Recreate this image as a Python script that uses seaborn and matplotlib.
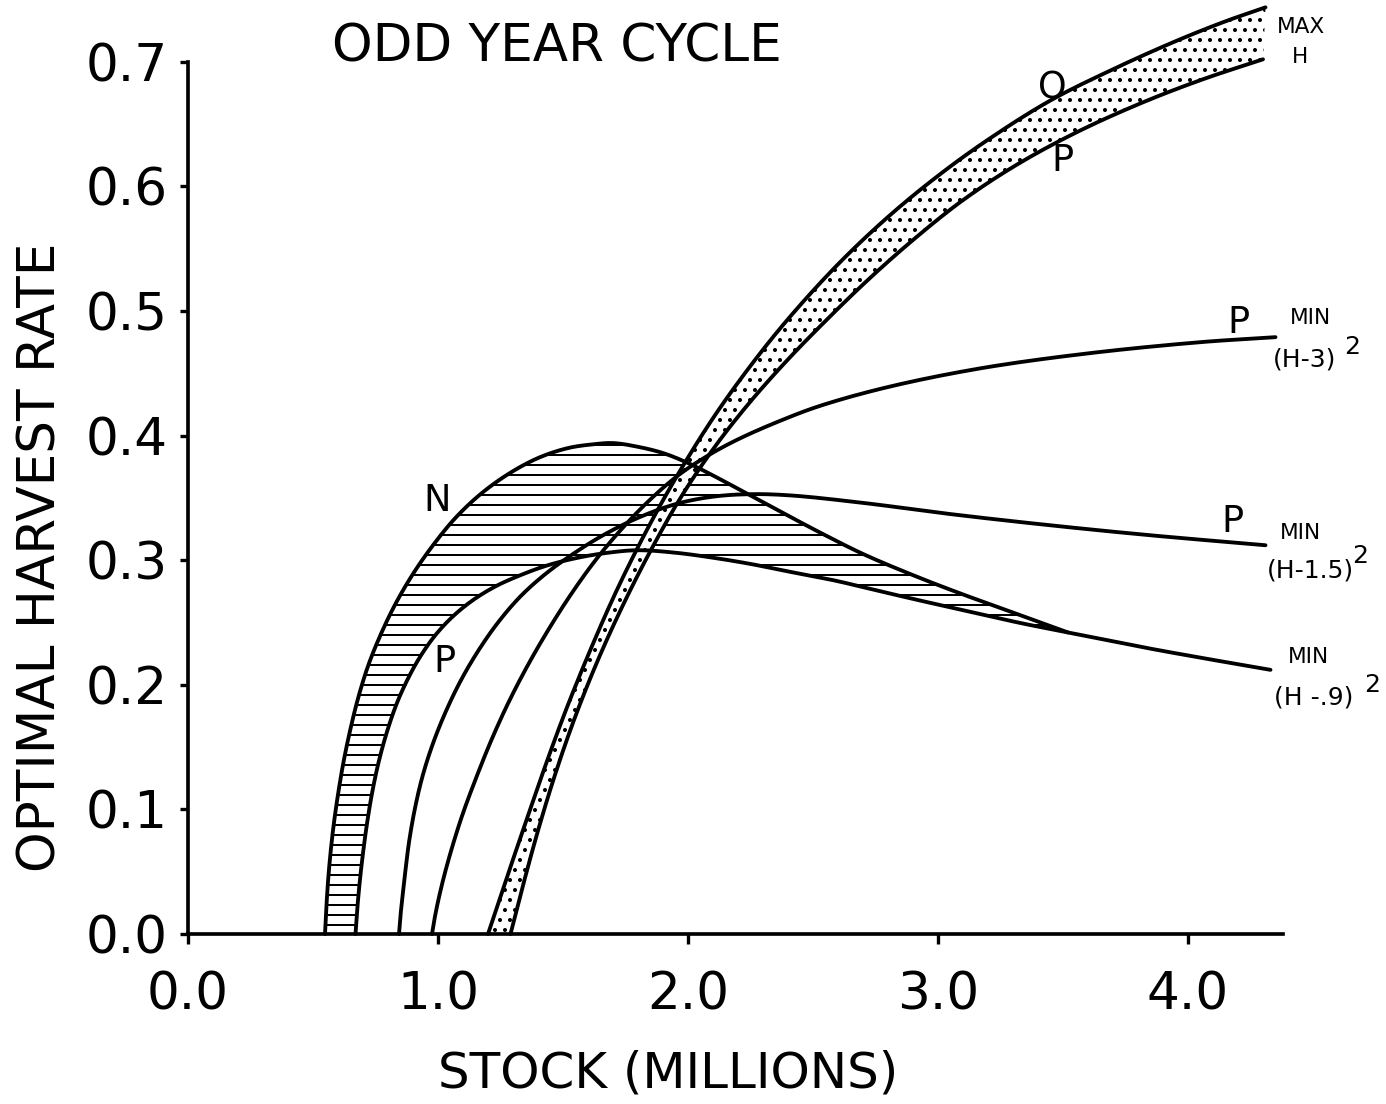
import numpy as np
import pandas as pd
import matplotlib
matplotlib.use("Agg")
import matplotlib.pyplot as plt
import seaborn as sns

# ---- readings: stock (millions) vs optimal harvest rate ----
# N curve (upper edge of the hatched band)
n_stock = [0.548, 0.553, 0.56, 0.57, 0.583, 0.60, 0.622, 0.648, 0.68, 0.72, 0.77, 0.83,
           0.90, 0.98, 1.07, 1.17, 1.28, 1.40, 1.52, 1.62, 1.70, 1.80, 1.90, 2.00, 2.10,
           2.24, 2.37, 2.53, 2.70, 2.90, 3.08, 3.30, 3.52]
n_rate = [0.000, 0.020, 0.042, 0.065, 0.088, 0.112, 0.138, 0.163, 0.189, 0.215, 0.240, 0.265,
          0.289, 0.312, 0.334, 0.353, 0.369, 0.382, 0.390, 0.393, 0.394, 0.391, 0.386, 0.378,
          0.368, 0.353, 0.339, 0.322, 0.305, 0.288, 0.274, 0.258, 0.242]

# P curve, MIN (H-.9)^2
p09_stock = [0.67, 0.677, 0.687, 0.70, 0.717, 0.738, 0.765, 0.797, 0.835, 0.88, 0.93, 0.99,
             1.06, 1.14, 1.23, 1.33, 1.44, 1.56, 1.68, 1.80, 1.95, 2.10, 2.25, 2.40, 2.58,
             2.75, 2.92, 3.10, 3.32, 3.52, 3.70, 3.85, 4.10, 4.33]
p09_rate = [0.000, 0.020, 0.042, 0.065, 0.090, 0.115, 0.140, 0.163, 0.185, 0.205, 0.223, 0.240,
            0.255, 0.268, 0.279, 0.288, 0.296, 0.302, 0.306, 0.308, 0.306, 0.302, 0.297, 0.291,
            0.284, 0.276, 0.268, 0.260, 0.250, 0.242, 0.235, 0.229, 0.220, 0.212]

# P curve, MIN (H-1.5)^2
p15_stock = [0.844, 0.85, 0.858, 0.868, 0.885, 0.91, 0.94, 0.98, 1.03, 1.09, 1.16, 1.24,
             1.33, 1.43, 1.54, 1.66, 1.80, 1.95, 2.10, 2.25, 2.41, 2.70, 3.05, 3.45, 3.85,
             4.31]
p15_rate = [0.000, 0.015, 0.030, 0.048, 0.075, 0.103, 0.128, 0.153, 0.178, 0.203, 0.227, 0.250,
            0.271, 0.289, 0.305, 0.320, 0.334, 0.345, 0.351, 0.353, 0.352, 0.346, 0.337, 0.328,
            0.320, 0.312]

# P curve, MIN (H-3)^2
p3_stock = [0.976, 0.985, 1.00, 1.025, 1.06, 1.10, 1.15, 1.21, 1.28, 1.36, 1.45, 1.54,
            1.63, 1.73, 1.84, 1.96, 2.08, 2.20, 2.37, 2.53, 2.80, 3.17, 3.60, 4.05, 4.35]
p3_rate = [0.000, 0.011, 0.026, 0.047, 0.072, 0.097, 0.124, 0.154, 0.185, 0.216, 0.247, 0.275,
           0.300, 0.324, 0.347, 0.368, 0.384, 0.397, 0.412, 0.424, 0.439, 0.454, 0.466, 0.475,
           0.479]

# MAX H band: O (upper edge) and P (lower edge)
o_stock = [1.20, 1.28, 1.36, 1.44, 1.52, 1.62, 1.72, 1.84, 1.96, 2.10, 2.25, 2.40, 2.60,
           2.80, 3.00, 3.20, 3.45, 3.70, 3.95, 4.15, 4.31]
o_rate = [0.000, 0.048, 0.095, 0.141, 0.184, 0.233, 0.278, 0.326, 0.369, 0.414, 0.456, 0.4935,
          0.5375, 0.5755, 0.6085, 0.6375, 0.669, 0.694, 0.7165, 0.7325, 0.7437]
pmax_stock = [1.29, 1.34, 1.40, 1.47, 1.55, 1.64, 1.74, 1.85, 1.97, 2.10, 2.24, 2.39, 2.55,
              2.72, 2.90, 3.10, 3.32, 3.56, 3.82, 4.06, 4.30]
pmax_rate = [0.000, 0.039, 0.083, 0.129, 0.175, 0.220, 0.264, 0.3075, 0.350, 0.389, 0.425,
             0.459, 0.492, 0.525, 0.557, 0.589, 0.618, 0.644, 0.6675, 0.686, 0.702]

x_ticks = [0.0, 1.0, 2.0, 3.0, 4.0]
x_tick_labels = ["0.0", "1.0", "2.0", "3.0", "4.0"]
y_ticks = [0.0, 0.1, 0.2, 0.3, 0.4, 0.5, 0.6, 0.7]
y_tick_labels = ["0.0", "0.1", "0.2", "0.3", "0.4", "0.5", "0.6", "0.7"]

# ---- layout (pixels per data unit, origin position) ----
DPI = 120
W, H = 1386, 1104
X0, Y0, SX, SY = 188, 934, 250, 1246
XMAX, YMAX = 4.6, 0.75


def smooth_path(xs, ys, n=14):
    """Centripetal Catmull-Rom path through the given points (drawing aid)."""
    p = np.column_stack([np.asarray(xs, float) * SX, np.asarray(ys, float) * SY])
    p = np.vstack([2 * p[0] - p[1], p, 2 * p[-1] - p[-2]])
    segs = []
    for i in range(1, len(p) - 2):
        p0, p1, p2, p3 = p[i - 1], p[i], p[i + 1], p[i + 2]
        t0 = 0.0
        t1 = t0 + np.linalg.norm(p1 - p0) ** 0.5
        t2 = t1 + np.linalg.norm(p2 - p1) ** 0.5
        t3 = t2 + np.linalg.norm(p3 - p2) ** 0.5
        t = np.linspace(t1, t2, n, endpoint=False)[:, None]
        a1 = (t1 - t) / (t1 - t0) * p0 + (t - t0) / (t1 - t0) * p1
        a2 = (t2 - t) / (t2 - t1) * p1 + (t - t1) / (t2 - t1) * p2
        a3 = (t3 - t) / (t3 - t2) * p2 + (t - t2) / (t3 - t2) * p3
        b1 = (t2 - t) / (t2 - t0) * a1 + (t - t0) / (t2 - t0) * a2
        b2 = (t3 - t) / (t3 - t1) * a2 + (t - t1) / (t3 - t1) * a3
        segs.append((t2 - t) / (t2 - t1) * b1 + (t - t1) / (t2 - t1) * b2)
    segs.append(p[-2][None, :])
    c = np.vstack(segs)
    return c[:, 0] / SX, c[:, 1] / SY


# ---- figure ----
sns.set_theme(style="ticks")
plt.rcParams["font.family"] = ["DejaVu Sans"]
plt.rcParams["hatch.linewidth"] = 1.2
plt.rcParams["hatch.color"] = "black"

fig = plt.figure(figsize=(W / DPI, H / DPI), dpi=DPI)
fig.patch.set_facecolor("white")
ax = fig.add_axes([X0 / W, (H - Y0) / H, SX * XMAX / W, SY * YMAX / H])
ax.set_facecolor("white")
ax.set_xlim(0, XMAX)
ax.set_ylim(0, YMAX)

series = {
    "N": (n_stock, n_rate),
    "P_H-.9": (p09_stock, p09_rate),
    "P_H-1.5": (p15_stock, p15_rate),
    "P_H-3": (p3_stock, p3_rate),
    "O_max": (o_stock, o_rate),
    "P_max": (pmax_stock, pmax_rate),
}
paths = {k: smooth_path(*v) for k, v in series.items()}

# hatched N band between the N curve and the P (H-.9) curve
nx, ny = paths["N"]
px9, py9 = paths["P_H-.9"]
keep = px9 <= n_stock[-1] + 1e-9
ax.fill(np.r_[nx, px9[keep][::-1]], np.r_[ny, py9[keep][::-1]],
        facecolor="none", edgecolor="black", hatch="--", linewidth=0, zorder=1)

# stippled MAX H band between O and P
ox, oy = paths["O_max"]
pmx, pmy = paths["P_max"]
ax.fill(np.r_[ox, pmx[::-1]], np.r_[oy, pmy[::-1]],
        facecolor="white", edgecolor="black", hatch="..", linewidth=0, zorder=2)

curves = pd.concat(
    [pd.DataFrame({"stock": sx, "rate": sy, "curve": k}) for k, (sx, sy) in paths.items()],
    ignore_index=True)

sns.lineplot(data=curves, x="stock", y="rate", units="curve", estimator=None,
             sort=False, color="black", linewidth=2.3, ax=ax, zorder=3, clip_on=False)

# axes styling
sns.despine(ax=ax)
ax.spines["left"].set_bounds(0, 0.7)
ax.spines["bottom"].set_bounds(0, 4.38)
for s in ("left", "bottom"):
    ax.spines[s].set_linewidth(2.2)
    ax.spines[s].set_color("black")
ax.set_xticks(x_ticks, x_tick_labels)
ax.set_yticks(y_ticks, y_tick_labels)
ax.tick_params(axis="x", direction="out", length=6, width=2, pad=16, labelsize=31,
               colors="black")
ax.tick_params(axis="y", direction="out", length=5, width=2, pad=7, labelsize=31,
               colors="black")

ax.set_xlabel("STOCK (MILLIONS)", fontsize=30, color="black")
ax.xaxis.set_label_coords((668 - X0) / (SX * XMAX), (Y0 - 1050) / (SY * YMAX))
ax.set_ylabel("OPTIMAL HARVEST RATE", fontsize=31, color="black")
ax.yaxis.set_label_coords((67 - X0) / (SX * XMAX), (Y0 - 557) / (SY * YMAX))

ax.set_title("ODD YEAR CYCLE", fontsize=31, color="black",
             x=(557 - X0) / (SX * XMAX), y=(Y0 - 57) / (SY * YMAX), va="center")

# curve letters
big = dict(fontsize=22, color="black", ha="center", va="center")
ax.text(0.996, 0.348, "N", **big)
ax.text(1.024, 0.219, "P", **big)
ax.text(3.456, 0.679, "O", **big)
ax.text(3.496, 0.621, "P", **big)
ax.text(4.20, 0.491, "P", **big)
ax.text(4.176, 0.331, "P", **big)

# objective labels
sm = dict(fontsize=13, color="black", ha="center", va="center")
md = dict(fontsize=15, color="black", ha="center", va="center")
ax.text(4.452, 0.728, "MAX", **sm)
ax.text(4.448, 0.704, "H", **sm)
ax.text(4.488, 0.494, "MIN", **sm)
ax.text(4.468, 0.461, "(H-3)", **md)
ax.text(4.656, 0.471, "2", **md)
ax.text(4.448, 0.322, "MIN", **sm)
ax.text(4.488, 0.292, "(H-1.5)", **md)
ax.text(4.688, 0.303, "2", **md)
ax.text(4.480, 0.222, "MIN", **sm)
ax.text(4.504, 0.190, "(H -.9)", **md)
ax.text(4.736, 0.200, "2", **md)

fig.savefig("out.png", dpi=DPI, facecolor="white")
